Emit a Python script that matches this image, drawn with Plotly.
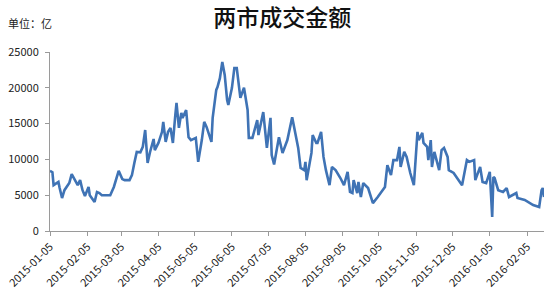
import plotly.graph_objects as go

dates = [
    "2015-01-05", "2015-01-07", "2015-01-08", "2015-01-12", "2015-01-13", "2015-01-15",
    "2015-01-17", "2015-01-21", "2015-01-23", "2015-01-26", "2015-01-28", "2015-01-30",
    "2015-02-01", "2015-02-03", "2015-02-06", "2015-02-07", "2015-02-11", "2015-02-13",
    "2015-02-15", "2015-02-17", "2015-02-24", "2015-02-27", "2015-03-03", "2015-03-06",
    "2015-03-08", "2015-03-12", "2015-03-14", "2015-03-16", "2015-03-18", "2015-03-21",
    "2015-03-23", "2015-03-25", "2015-03-27", "2015-03-29", "2015-04-01", "2015-04-02",
    "2015-04-05", "2015-04-08", "2015-04-09", "2015-04-11", "2015-04-13", "2015-04-15",
    "2015-04-17", "2015-04-19", "2015-04-20", "2015-04-22", "2015-04-24", "2015-04-25",
    "2015-04-28", "2015-04-30", "2015-05-02", "2015-05-06", "2015-05-08", "2015-05-11",
    "2015-05-13", "2015-05-15", "2015-05-19", "2015-05-20", "2015-05-23", "2015-05-24",
    "2015-05-26", "2015-05-28", "2015-05-30", "2015-06-01", "2015-06-02", "2015-06-05",
    "2015-06-07", "2015-06-09", "2015-06-11", "2015-06-12", "2015-06-15", "2015-06-18",
    "2015-06-19", "2015-06-22", "2015-06-26", "2015-06-27", "2015-07-01", "2015-07-04",
    "2015-07-07", "2015-07-08", "2015-07-10", "2015-07-14", "2015-07-17", "2015-07-21",
    "2015-07-25", "2015-07-27", "2015-07-30", "2015-08-01", "2015-08-04", "2015-08-05",
    "2015-08-06", "2015-08-10", "2015-08-11", "2015-08-14", "2015-08-15", "2015-08-18",
    "2015-08-20", "2015-08-22", "2015-08-25", "2015-08-27", "2015-08-30", "2015-09-03",
    "2015-09-06", "2015-09-09", "2015-09-11", "2015-09-13", "2015-09-14", "2015-09-17",
    "2015-09-18", "2015-09-20", "2015-09-22", "2015-09-26", "2015-09-30", "2015-10-04",
    "2015-10-10", "2015-10-12", "2015-10-15", "2015-10-17", "2015-10-20", "2015-10-22",
    "2015-10-23", "2015-10-26", "2015-10-28", "2015-10-31", "2015-11-03", "2015-11-06",
    "2015-11-07", "2015-11-10", "2015-11-11", "2015-11-14", "2015-11-15", "2015-11-17",
    "2015-11-18", "2015-11-20", "2015-11-24", "2015-11-26", "2015-11-28", "2015-12-01",
    "2015-12-02", "2015-12-06", "2015-12-10", "2015-12-13", "2015-12-17", "2015-12-19",
    "2015-12-23", "2015-12-24", "2015-12-28", "2015-12-30", "2016-01-02", "2016-01-05",
    "2016-01-07", "2016-01-08", "2016-01-09", "2016-01-12", "2016-01-16", "2016-01-19",
    "2016-01-21", "2016-01-24", "2016-01-27", "2016-01-28", "2016-02-03", "2016-02-10",
    "2016-02-15", "2016-02-17", "2016-02-18", "2016-02-19",
]

turnover = [
    8400, 8200, 6400, 6850, 6000, 4600,
    5700, 6700, 7950, 7100, 6400, 7100,
    5700, 4900, 6150, 5000, 4050, 5450,
    5300, 5000, 5000, 6150, 8400, 7250,
    7100, 7100, 7800, 9500, 11050, 11000,
    11750, 14100, 9500, 11000, 12850, 11300,
    12300, 13850, 15250, 12450, 13850, 14400,
    12300, 16200, 17900, 14400, 16500, 15800,
    16900, 13100, 12700, 13000, 9650, 12700,
    15250, 14500, 12450, 15800, 19700, 20100,
    21350, 23600, 21800, 18300, 17600, 20000,
    22750, 22750, 19700, 18600, 20000, 16900,
    13000, 13000, 15500, 13400, 16600, 11600,
    15800, 10600, 9300, 13100, 10900, 12700,
    15900, 14100, 11600, 8800, 8500, 9650,
    7100, 10900, 13400, 12300, 12300, 13850,
    10350, 8500, 6400, 8950, 8500, 7400,
    6400, 8250, 5450, 5300, 7100, 5300,
    6850, 4750, 6700, 6000, 3900, 4750,
    6150, 9200, 7800, 9900, 9900, 11750,
    8950, 11050, 10350, 8100, 6400, 13850,
    12700, 13700, 12300, 11750, 9900, 12700,
    8950, 11050, 8500, 11300, 11600, 10350,
    8500, 8100, 7100, 6400, 9900, 9650,
    9900, 7100, 8950, 6850, 6700, 8250,
    1950, 7550, 7400, 5700, 5450, 6000,
    4750, 5000, 5300, 4600, 4330, 3630,
    3350, 5700, 6000, 4750,
]

tick_dates = [
    "2015-01-05", "2015-02-05", "2015-03-05", "2015-04-05", "2015-05-05",
    "2015-06-05", "2015-07-05", "2015-08-05", "2015-09-05", "2015-10-05",
    "2015-11-05", "2015-12-05", "2016-01-05", "2016-02-05",
]
y_ticks = [0, 5000, 10000, 15000, 20000, 25000]
y_labels = [str(v) for v in y_ticks]

fig = go.Figure()
fig.add_trace(go.Scatter(
    x=dates, y=turnover, mode="lines",
    line=dict(color="#3F73B5", width=2.6),
    hoverinfo="skip",
))

font_family = "Noto Sans CJK SC, Noto Sans, sans-serif"

fig.update_layout(
    width=559, height=301,
    margin=dict(l=50, r=15, t=52, b=70),
    paper_bgcolor="white", plot_bgcolor="white",
    showlegend=False,
    font=dict(family=font_family, color="#222222", size=11),
    title=dict(text="两市成交金额", x=0.505, xanchor="center", y=0.94, yanchor="middle",
               font=dict(size=23, color="#111111", family=font_family, weight=500)),
    annotations=[dict(text="单位：亿", xref="paper", yref="paper", x=-0.09, y=1.16,
                      xanchor="left", yanchor="middle", showarrow=False,
                      font=dict(size=11, color="#222222"))],
)
fig.update_xaxes(
    type="date", range=["2015-01-05", "2016-02-19"], automargin=False,
    tickvals=tick_dates, ticktext=tick_dates, tickangle=-45,
    showgrid=False, zeroline=False,
    showline=True, linecolor="#9a9a9a", linewidth=1,
    ticks="outside", ticklen=4, tickcolor="#9a9a9a",
    tickfont=dict(size=11, color="#222222"),
)
fig.update_yaxes(
    range=[0, 25000], tickvals=y_ticks, ticktext=y_labels, automargin=False,
    showgrid=False, zeroline=False,
    showline=True, linecolor="#9a9a9a", linewidth=1,
    ticks="outside", ticklen=4, tickcolor="#9a9a9a", ticklabelstandoff=4,
    tickfont=dict(size=11, color="#222222"),
)

fig.write_html("out.html")
